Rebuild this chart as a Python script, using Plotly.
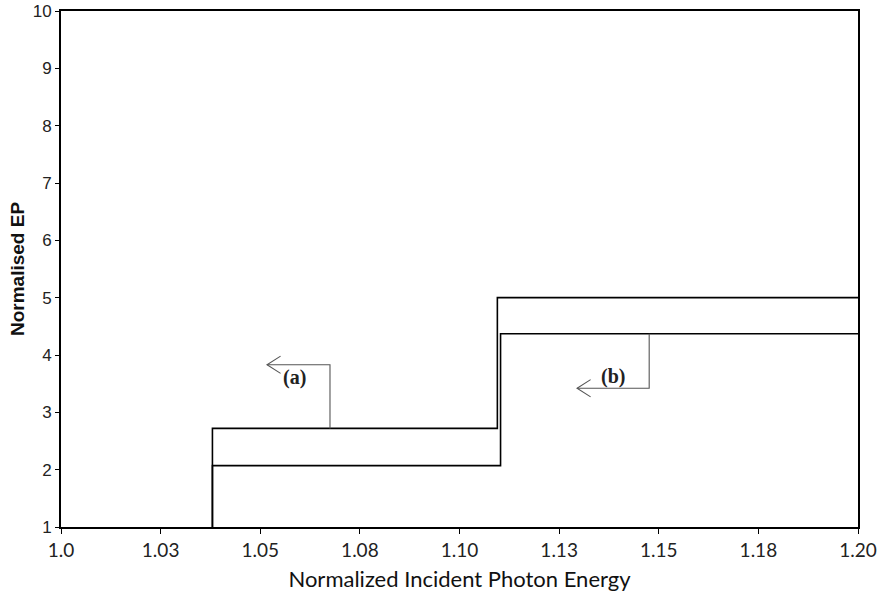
import plotly.graph_objects as go

# Data
curve_a_x = [1.038, 1.038, 1.1095, 1.1095, 1.2]
curve_a_y = [1.0, 2.72, 2.72, 5.0, 5.0]
curve_b_x = [1.038, 1.038, 1.1103, 1.1103, 1.2]
curve_b_y = [1.0, 2.07, 2.07, 4.37, 4.37]

x_tickvals = [1.0, 1.025, 1.05, 1.075, 1.10, 1.125, 1.15, 1.175, 1.20]
x_ticktext = ["1.0", "1.03", "1.05", "1.08", "1.10", "1.13", "1.15", "1.18", "1.20"]
y_tickvals = [1, 2, 3, 4, 5, 6, 7, 8, 9, 10]

# Callout leaders (a) and (b): path from curve, to arrow tip
lead_a_x = [1.0675, 1.0675, 1.0517]
lead_a_y = [2.72, 3.83, 3.83]
lead_b_x = [1.1476, 1.1476, 1.1295]
lead_b_y = [4.37, 3.42, 3.42]
label_a = {"x": 1.0585, "y": 3.61, "text": "(a)"}
label_b = {"x": 1.1385, "y": 3.62, "text": "(b)"}
head_dx = 0.0034
head_dy = 0.15

fig = go.Figure()
for xs, ys in [(curve_a_x, curve_a_y), (curve_b_x, curve_b_y)]:
    fig.add_trace(go.Scatter(x=xs, y=ys, mode="lines",
                             line=dict(color="black", width=1.6),
                             showlegend=False, hoverinfo="skip"))

for lx, ly in [(lead_a_x, lead_a_y), (lead_b_x, lead_b_y)]:
    fig.add_trace(go.Scatter(x=lx, y=ly, mode="lines",
                             line=dict(color="#555555", width=1.1),
                             showlegend=False, hoverinfo="skip"))
    tx, ty = lx[-1], ly[-1]
    fig.add_trace(go.Scatter(x=[tx + head_dx, tx, tx + head_dx],
                             y=[ty + head_dy, ty, ty - head_dy], mode="lines",
                             line=dict(color="#555555", width=1.1),
                             showlegend=False, hoverinfo="skip"))

for lab in (label_a, label_b):
    fig.add_annotation(x=lab["x"], y=lab["y"], text="<b>" + lab["text"] + "</b>",
                       showarrow=False,
                       font=dict(family="Liberation Serif", size=20, color="#222222"))

fig.update_layout(
    width=884, height=598,
    margin=dict(l=61, r=26, t=11, b=71, autoexpand=False),
    paper_bgcolor="white", plot_bgcolor="white",
    xaxis=dict(range=[1.0, 1.2], tickvals=x_tickvals, ticktext=x_ticktext,
               showgrid=False, zeroline=False,
               showline=True, linecolor="black", linewidth=2, mirror=True,
               ticks="outside", ticklen=5, tickcolor="black", tickwidth=1,
               tickfont=dict(family="Lato", size=19, color="#222222"),
               title=dict(text="Normalized Incident Photon Energy",
                          font=dict(family="Lato", size=22, color="#111111"),
                          standoff=12)),
    yaxis=dict(range=[1, 10], tickvals=y_tickvals,
               showgrid=False, zeroline=False,
               showline=True, linecolor="black", linewidth=2, mirror=True,
               ticks="outside", ticklen=4, tickcolor="black", tickwidth=1,
               tickfont=dict(family="Liberation Sans", size=17, color="#222222"),
               title=dict(text="<b>Normalised EP</b>",
                          font=dict(family="Liberation Sans", size=19, color="#111111"),
                          standoff=3)),
)

fig.write_html("out.html", config={"displayModeBar": False},
               post_script="document.body.style.margin='0';document.body.style.padding='0';")
